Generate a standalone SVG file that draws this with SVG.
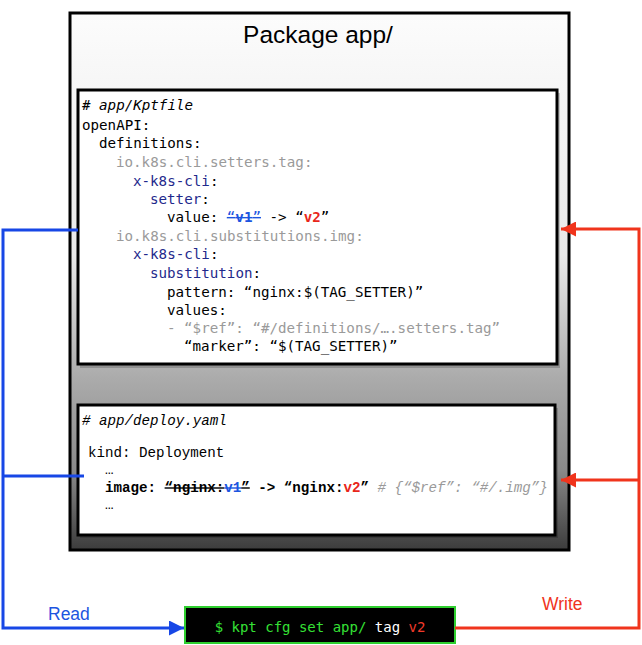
<svg xmlns="http://www.w3.org/2000/svg" width="642" height="645" viewBox="0 0 642 645">
<defs>
<linearGradient id="pkgGrad" x1="0" y1="0" x2="0" y2="1">
<stop offset="0" stop-color="#fcfcfc"/>
<stop offset="0.45" stop-color="#e9e9e9"/>
<stop offset="0.68" stop-color="#ababab"/>
<stop offset="0.85" stop-color="#8a8a8a"/>
<stop offset="1" stop-color="#3c3c3c"/>
</linearGradient>
<marker id="arrBlue" viewBox="0 0 10 10" refX="10" refY="5" markerWidth="5" markerHeight="5" orient="auto" markerUnits="strokeWidth">
<path d="M0,0 L10,5 L0,10 z" fill="#1747e6"/>
</marker>
<marker id="arrRed" viewBox="0 0 10 10" refX="10" refY="5" markerWidth="5" markerHeight="5" orient="auto" markerUnits="strokeWidth">
<path d="M0,0 L10,5 L0,10 z" fill="#f0341c"/>
</marker>
</defs>
<style>
.box{fill:#fff;stroke:#000;stroke-width:3}
.shadow{fill:#000;opacity:0.18}
.k{font-family:"DejaVu Sans Mono","Liberation Mono",monospace;font-size:14.2px;fill:#000}
.d{font-family:"Liberation Mono","DejaVu Sans Mono",monospace;font-size:14.2px;fill:#000}
.gray{fill:#9a9a9a}
.navy{fill:#1f2a8c}
.blue{fill:#1c55e0}
.red{fill:#e8261a;font-weight:bold}
.lbl{font-family:"Liberation Sans",Arial,sans-serif;font-size:17.5px}
.cmd{font-family:"DejaVu Sans Mono","Liberation Mono",monospace;font-size:14px}
</style>
<g id="package">
<rect x="70" y="13" width="499" height="537" fill="url(#pkgGrad)" stroke="#000" stroke-width="3"/>
<text x="318" y="43" text-anchor="middle" font-family="Liberation Sans, Arial, sans-serif" font-size="24.5" fill="#000">Package app/</text>
</g>
<g id="kptfile">
<rect class="shadow" x="80" y="93" width="480" height="275"/>
<rect class="box" x="78" y="90" width="479" height="274"/>
<text class="k" x="82" y="110" font-style="italic"># app/Kptfile</text>
<text class="k" x="82" y="130">openAPI:</text>
<text class="k" x="99" y="148">definitions:</text>
<text class="k gray" x="116" y="167">io.k8s.cli.setters.tag:</text>
<text class="k" x="133" y="186"><tspan class="navy">x-k8s-cli</tspan>:</text>
<text class="k" x="150" y="204"><tspan class="navy">setter</tspan>:</text>
<text class="k" x="167" y="222">value: <tspan class="blue" text-decoration="line-through">“<tspan font-weight="bold">v1</tspan>”</tspan> -&gt; “<tspan class="red">v2</tspan>”</text>
<text class="k gray" x="116" y="241">io.k8s.cli.substitutions.img:</text>
<text class="k" x="133" y="259"><tspan class="navy">x-k8s-cli</tspan>:</text>
<text class="k" x="150" y="278"><tspan class="navy">substitution</tspan>:</text>
<text class="k" x="167" y="297">pattern: “nginx:$(TAG_SETTER)”</text>
<text class="k" x="167" y="315">values:</text>
<text class="k gray" x="167" y="333">- “$ref”: “#/definitions/….setters.tag”</text>
<text class="k" x="184" y="351">“marker”: “$(TAG_SETTER)”</text>
</g>
<g id="deploy">
<rect class="shadow" x="80" y="408" width="478" height="130"/>
<rect class="box" x="78" y="405" width="477" height="130"/>
<text class="d" x="82" y="425" font-style="italic"># app/deploy.yaml</text>
<text class="d" x="88" y="457">kind: Deployment</text>
<text class="d" x="105" y="474">…</text>
<text class="d" x="105" y="492" font-weight="bold">image: <tspan text-decoration="line-through">“nginx:</tspan><tspan class="blue" text-decoration="line-through">v1</tspan><tspan text-decoration="line-through">”</tspan> -&gt; “nginx:<tspan class="red">v2</tspan>” <tspan class="gray" font-weight="normal" font-style="italic"># {“$ref”: “#/.img”}</tspan></text>
<text class="d" x="105" y="509">…</text>
</g>
<g id="command">
<rect x="185" y="607" width="270" height="36" fill="#000" stroke="#2fcf2f" stroke-width="2"/>
<text class="cmd" x="320" y="632" text-anchor="middle"><tspan fill="#35e035">$ kpt cfg set app/</tspan> <tspan fill="#fff">tag</tspan> <tspan fill="#f03a2a">v2</tspan></text>
</g>
<g id="connectors" fill="none" stroke-width="3">
<path d="M78,230 H3 V628 H184" stroke="#1747e6" marker-end="url(#arrBlue)"/>
<path d="M84,476 H3" stroke="#1747e6"/>
<path d="M455,628 H639 V229 H561" stroke="#f0341c" marker-end="url(#arrRed)"/>
<path d="M639,480 H561" stroke="#f0341c" marker-end="url(#arrRed)"/>
<text class="lbl" x="48" y="620" fill="#1c55e0" stroke="none">Read</text>
<text class="lbl" x="542" y="610" fill="#f0341c" stroke="none">Write</text>
</g>
</svg>
